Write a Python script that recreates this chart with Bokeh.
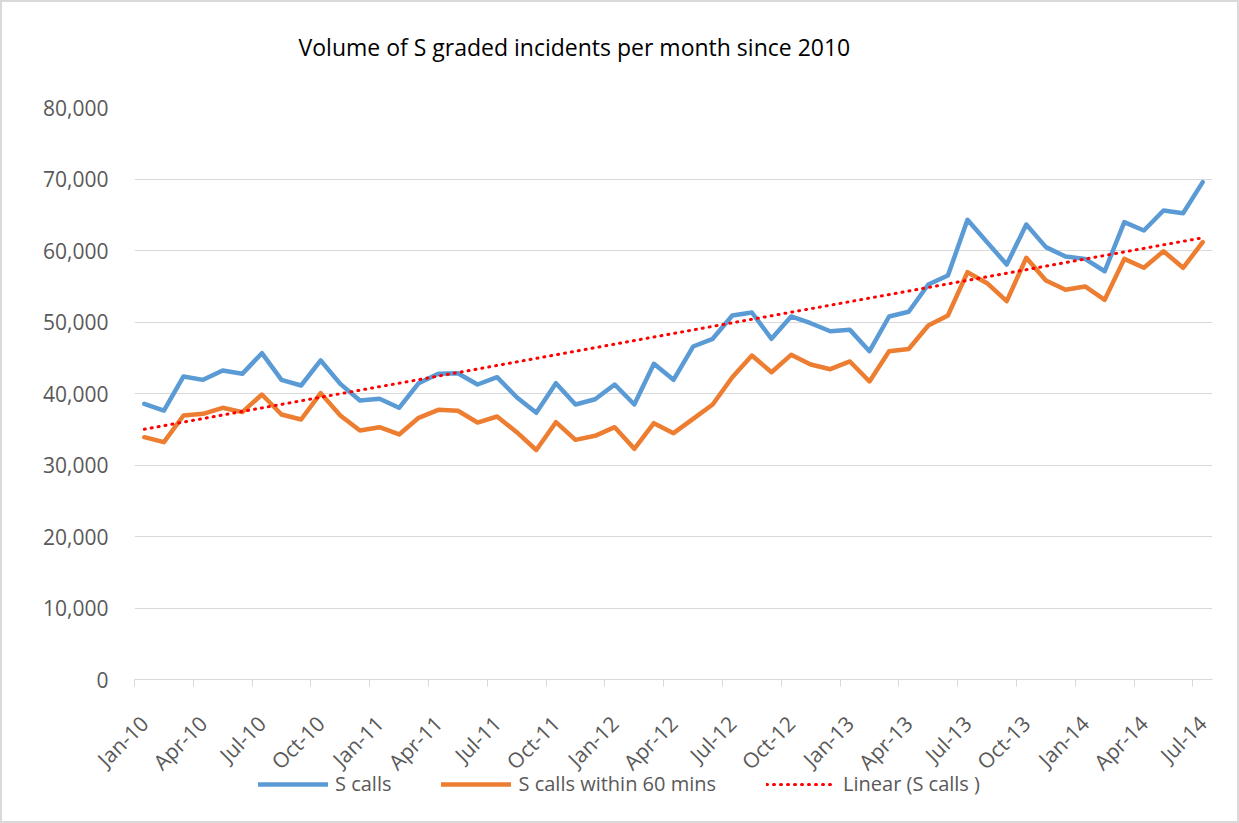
import numpy as np
from bokeh.plotting import figure
from bokeh.layouts import column
from bokeh.core.properties import value
from bokeh.models import Range1d, FixedTicker, NumeralTickFormatter, Legend, LegendItem
from bokeh.embed import file_html
from bokeh.resources import INLINE

months = ["Jan-10", "Feb-10", "Mar-10", "Apr-10", "May-10", "Jun-10", "Jul-10", "Aug-10", "Sep-10", "Oct-10", "Nov-10", "Dec-10",
          "Jan-11", "Feb-11", "Mar-11", "Apr-11", "May-11", "Jun-11", "Jul-11", "Aug-11", "Sep-11", "Oct-11", "Nov-11", "Dec-11",
          "Jan-12", "Feb-12", "Mar-12", "Apr-12", "May-12", "Jun-12", "Jul-12", "Aug-12", "Sep-12", "Oct-12", "Nov-12", "Dec-12",
          "Jan-13", "Feb-13", "Mar-13", "Apr-13", "May-13", "Jun-13", "Jul-13", "Aug-13", "Sep-13", "Oct-13", "Nov-13", "Dec-13",
          "Jan-14", "Feb-14", "Mar-14", "Apr-14", "May-14", "Jun-14", "Jul-14"]

s_calls = [38560, 37620, 42380, 41910, 43220, 42750, 45640, 41910, 41120, 44620, 41350, 39020,
           39260, 38000, 41440, 42750, 42840, 41260, 42280, 39480, 37300, 41440, 38460, 39200,
           41260, 38460, 44150, 41910, 46570, 47650, 50910, 51330, 47650, 50770, 49830, 48710,
           48900, 45920, 50770, 51440, 55240, 56500, 64290, 61160, 58040, 63640, 60470, 59160,
           58830, 57100, 63960, 62800, 65590, 65220, 69560]

s_calls_60 = [33890, 33190, 36920, 37160, 38000, 37390, 39860, 37060, 36360, 40050, 36920, 34830,
              35290, 34270, 36600, 37720, 37580, 35940, 36780, 34590, 32100, 35990, 33520, 34080,
              35290, 32270, 35850, 34450, 36460, 38460, 42280, 45310, 42980, 45410, 44060, 43400,
              44480, 41680, 45900, 46220, 49510, 50910, 56970, 55430, 52910, 58980, 55800, 54500,
              54970, 53100, 58830, 57580, 59900, 57580, 61160]

y_ticks = [0, 10000, 20000, 30000, 40000, 50000, 60000, 70000, 80000]
series_labels = ["S calls", "S calls within 60 mins", "Linear (S calls )"]
title_text = "Volume of S graded incidents per month since 2010"

x = np.arange(len(months))
coef = np.polyfit(x, np.array(s_calls, dtype=float), 1)
trend = np.polyval(coef, x)

FONT = "Open Sans"
GRAY = "#595959"
BLUE = "#5B9BD5"
ORANGE = "#ED7D31"
RED = "#FF0000"

# main chart
p = figure(width=1235, height=693, output_backend="svg", toolbar_location=None,
           x_range=Range1d(-0.5, len(months) - 0.5), y_range=Range1d(0, 80000),
           min_border_left=132, min_border_right=25, min_border_top=12, min_border_bottom=109)

p.outline_line_color = None
p.xgrid.grid_line_color = None
p.ygrid.grid_line_color = "#d9d9d9"
p.ygrid.grid_line_width = 1

tick_idx = list(range(0, len(months), 3))
p.xaxis.ticker = FixedTicker(ticks=tick_idx, minor_ticks=[i - 0.5 for i in tick_idx])
p.xaxis.major_label_overrides = {i: months[i] for i in tick_idx}
p.xaxis.major_label_orientation = np.pi / 4
p.xaxis.axis_line_color = "#d9d9d9"
p.xaxis.major_tick_line_color = None
p.xaxis.minor_tick_line_color = "#d9d9d9"
p.xaxis.minor_tick_in = 0
p.xaxis.minor_tick_out = 7
p.xaxis.major_label_standoff = 33
p.xaxis.major_label_text_font = FONT
p.xaxis.major_label_text_font_size = "21px"
p.xaxis.major_label_text_color = GRAY

p.yaxis.ticker = FixedTicker(ticks=y_ticks)
p.yaxis.formatter = NumeralTickFormatter(format="0,0")
p.yaxis.axis_line_color = None
p.yaxis.major_tick_line_color = None
p.yaxis.minor_tick_line_color = None
p.yaxis.major_label_standoff = 20
p.yaxis.major_label_text_font = FONT
p.yaxis.major_label_text_font_size = "21px"
p.yaxis.major_label_text_color = GRAY

p.line(x, s_calls, line_color=BLUE, line_width=4.5, line_join="round", line_cap="round")
p.line(x, s_calls_60, line_color=ORANGE, line_width=4.5, line_join="round", line_cap="round")
p.line(x, trend, line_color=RED, line_width=3, line_dash="1 6", line_cap="round")

# title strip above the chart (shares the chart's x range)
pt = figure(width=1235, height=93, output_backend="svg", toolbar_location=None,
            x_range=p.x_range, y_range=Range1d(0, 1),
            x_axis_location=None, y_axis_location=None,
            min_border_left=0, min_border_right=0, min_border_top=0, min_border_bottom=0)
pt.grid.grid_line_color = None
pt.outline_line_color = None
pt.background_fill_alpha = 0
pt.border_fill_alpha = 0
pt.text(x=[7.87], y=[0.52], text=[title_text], text_font=value(FONT), text_font_size=value("23px"),
        text_color="#000000", text_align="left", text_baseline="middle")

# legend strip below the chart (its sample lines lie outside the visible range)
pl = figure(width=1235, height=54, output_backend="svg", toolbar_location=None,
            x_range=Range1d(0, 1), y_range=Range1d(0, 1),
            x_axis_location=None, y_axis_location=None,
            min_border_left=0, min_border_right=0, min_border_top=0, min_border_bottom=0,
            margin=(-21, 0, 0, 0))
pl.grid.grid_line_color = None
pl.outline_line_color = None
pl.background_fill_alpha = 0
pl.border_fill_alpha = 0
l1 = pl.line([5, 6], [5, 5], line_color=BLUE, line_width=4.5, line_cap="round")
l2 = pl.line([5, 6], [5, 5], line_color=ORANGE, line_width=4.5, line_cap="round")
l3 = pl.line([5, 6], [5, 5], line_color=RED, line_width=3, line_dash="1 6", line_cap="round")

legend = Legend(items=[LegendItem(label=series_labels[0], renderers=[l1]),
                       LegendItem(label=series_labels[1], renderers=[l2]),
                       LegendItem(label=series_labels[2], renderers=[l3])],
                orientation="horizontal", location=(124, 24),
                glyph_width=70, label_standoff=7, spacing=50, margin=0, padding=2,
                label_text_font=FONT, label_text_font_size="20px", label_text_color=GRAY,
                border_line_color=None, background_fill_alpha=0)
pl.add_layout(legend, "center")

layout = column(pt, p, pl, spacing=0, styles={"border": "2px solid #d9d9d9"})
open("out.html", "w").write(file_html(layout, INLINE))
